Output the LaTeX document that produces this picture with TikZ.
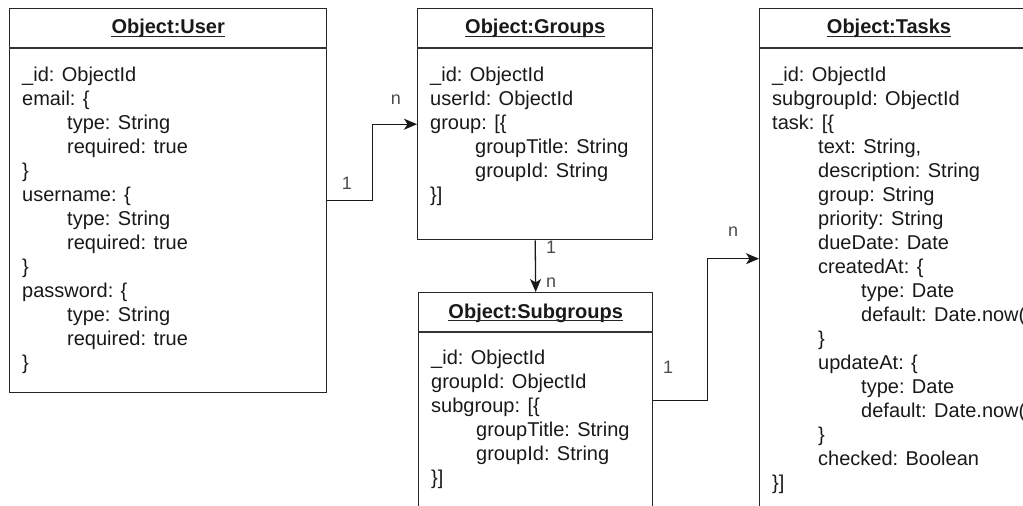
\documentclass[tikz,border=0pt]{standalone}
\usepackage{fontspec}
\setmainfont{Liberation Sans}
\usetikzlibrary{arrows.meta}
\begin{document}
\begin{tikzpicture}[x=1pt,y=-1pt,
  box/.style={draw=black!85,line width=1.4pt,rectangle,inner sep=0pt,anchor=north west},
  sep/.style={draw=black!80,line width=1.4pt},
  ttl/.style={font=\fontsize{20}{24}\selectfont\bfseries,inner sep=0pt,anchor=base,text=black!90},
  uline/.style={line width=1.1pt,draw=black!85},
  body/.style={font=\fontsize{20}{24}\selectfont,align=left,inner sep=0pt,anchor=north west,text=black!90},
  lbl/.style={font=\fontsize{18}{21}\selectfont,text=black!70,inner sep=0pt},
  arr/.style={draw=black!90,line width=1.3pt,-{Stealth[length=13pt,width=11pt,inset=3.5pt]}}
]
\useasboundingbox (0,0) rectangle (1023,506);
\clip (0,0) rectangle (1023,506);

% boxes
\node[box,minimum width=317pt,minimum height=384pt] (user) at (9,8) {};
\node[box,minimum width=235pt,minimum height=231pt] (groups) at (417,8) {};
\node[box,minimum width=234pt,minimum height=215pt] (subgroups) at (418,292) {};
\node[box,minimum width=268pt,minimum height=500pt] (tasks) at (759,8) {};

% header separators
\draw[sep] ([yshift=-40pt]user.north west) -- ([yshift=-40pt]user.north east);
\draw[sep] ([yshift=-40pt]groups.north west) -- ([yshift=-40pt]groups.north east);
\draw[sep] ([yshift=-40pt]subgroups.north west) -- ([yshift=-40pt]subgroups.north east);
\draw[sep] ([yshift=-40pt]tasks.north west) -- ([yshift=-40pt]tasks.north east);

% titles
\node[ttl] (userT) at ([yshift=-26pt]user.north) {Object:User};
\node[ttl] (groupsT) at ([yshift=-26pt]groups.north) {Object:Groups};
\node[ttl] (subgroupsT) at ([yshift=-26pt]subgroups.north) {Object:Subgroups};
\node[ttl] (tasksT) at ([xshift=130pt,yshift=-26pt]tasks.north west) {Object:Tasks};
\foreach \t in {userT,groupsT,subgroupsT,tasksT}{
  \draw[uline] ([yshift=-2.5pt]\t.base west) -- ([yshift=-2.5pt]\t.base east);
}

% bodies
\node[body] (userB) at ([xshift=13pt,yshift=-59pt]user.north west) {%
\_id: ObjectId\\%
email: \{\\%
\hspace*{45pt}type: String\\%
\hspace*{45pt}required: true\\%
\}\\%
username: \{\\%
\hspace*{45pt}type: String\\%
\hspace*{45pt}required: true\\%
\}\\%
password: \{\\%
\hspace*{45pt}type: String\\%
\hspace*{45pt}required: true\\%
\}};

\node[body] (groupsB) at ([xshift=13pt,yshift=-59pt]groups.north west) {%
\_id: ObjectId\\%
userId: ObjectId\\%
group: [\{\\%
\hspace*{45pt}groupTitle: String\\%
\hspace*{45pt}groupId: String\\%
\}]};

\node[body] (subgroupsB) at ([xshift=13pt,yshift=-58pt]subgroups.north west) {%
\_id: ObjectId\\%
groupId: ObjectId\\%
subgroup: [\{\\%
\hspace*{45pt}groupTitle: String\\%
\hspace*{45pt}groupId: String\\%
\}]};

\node[body] (tasksB) at ([xshift=13pt,yshift=-59pt]tasks.north west) {%
\_id: ObjectId\\%
subgroupId: ObjectId\\%
task: [\{\\%
\hspace*{46pt}text: String,\\%
\hspace*{46pt}description: String\\%
\hspace*{46pt}group: String\\%
\hspace*{46pt}priority: String\\%
\hspace*{46pt}dueDate: Date\\%
\hspace*{46pt}createdAt: \{\\%
\hspace*{89pt}type: Date\\%
\hspace*{89pt}default: Date.now(\\%
\hspace*{46pt}\}\\%
\hspace*{46pt}updateAt: \{\\%
\hspace*{89pt}type: Date\\%
\hspace*{89pt}default: Date.now(\\%
\hspace*{46pt}\}\\%
\hspace*{46pt}checked: Boolean\\%
\}]};

% connectors
\draw[arr] (user.east) -- ++(45,0) |- (groups.west);
\draw[arr] (groups.south) -- (subgroups.north);
\draw[arr] (subgroups.east) -- ++(54,0) |- (tasks.west);

% multiplicity labels
\node[lbl] (m1a) at (347,183) {1};
\node[lbl] (m1b) at (396,100) {n};
\node[lbl] (m2a) at (551,247) {1};
\node[lbl] (m2b) at (551,283) {n};
\node[lbl] (m3a) at (668,367) {1};
\node[lbl] (m3b) at (733,232) {n};
\end{tikzpicture}
\end{document}
